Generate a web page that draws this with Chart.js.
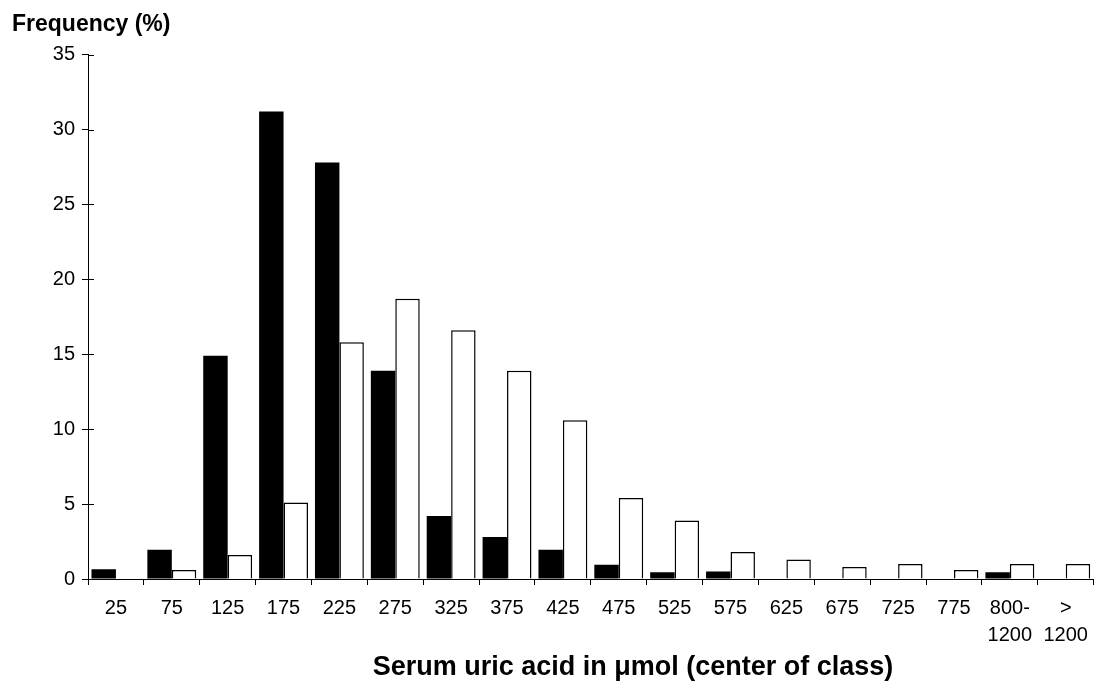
<!DOCTYPE html>
<html>
<head>
  <title>Serum uric acid frequency</title>
  <script src="https://cdn.jsdelivr.net/npm/chart.js@4.4.0/dist/chart.umd.min.js"></script>
  <style>
    * { margin: 0; padding: 0; box-sizing: border-box; }
    body { background: #fff; width: 1098px; height: 687px; overflow: hidden; }
    .chart-box { position: relative; width: 1098px; height: 687px; }
  </style>
</head>
<body>
<div class="chart-box">
  <canvas id="uricChart"></canvas>
</div>

<script>
  // class centres (umol)
  const classLabels = ['25', '75', '125', '175', '225', '275', '325', '375', '425',
    '475', '525', '575', '625', '675', '725', '775', ['800-', '1200'], ['>', '1200']];
  // frequency in %, black series
  const blackValues = [0.65, 1.95, 14.9, 31.2, 27.8, 13.9, 4.2, 2.8, 1.95,
    0.95, 0.45, 0.5, 0, 0, 0, 0, 0.45, 0];
  // frequency in %, white series
  const whiteValues = [0, 0.6, 1.6, 5.1, 15.8, 18.7, 16.6, 13.9, 10.6,
    5.4, 3.9, 1.8, 1.3, 0.8, 1.0, 0.6, 1.0, 1.0];
  const yTicks = [0, 5, 10, 15, 20, 25, 30, 35];
  const xTitle = 'Serum uric acid in \u03bcmol (center of class)';

  const FONT = "'Liberation Sans', Arial, sans-serif";

  // short tick marks crossing the y axis line, plus the x axis title
  // (the title sits a bit right of the plot centre in the original)
  const extras = {
    id: 'extras',
    afterDraw(chart) {
      const y = chart.scales.y;
      const c = chart.ctx;
      c.save();
      c.strokeStyle = '#000';
      c.lineWidth = 1;
      y.ticks.forEach(t => {
        const py = Math.round(y.getPixelForValue(t.value)) + 0.5;
        c.beginPath();
        c.moveTo(chart.chartArea.left, py);
        c.lineTo(chart.chartArea.left + 6, py);
        c.stroke();
      });
      c.fillStyle = '#000';
      c.font = 'bold 27px ' + FONT;
      c.textAlign = 'center';
      c.textBaseline = 'alphabetic';
      c.fillText(xTitle, 633, 675);
      c.restore();
    }
  };

  const ctx = document.getElementById('uricChart').getContext('2d');
  new Chart(ctx, {
    type: 'bar',
    data: {
      labels: classLabels,
      datasets: [
        {
          data: blackValues,
          backgroundColor: '#000',
          borderColor: '#000',
          borderWidth: 0,
          categoryPercentage: 0.875,
          barPercentage: 1.0
        },
        {
          data: whiteValues,
          backgroundColor: '#fff',
          borderColor: '#000',
          borderWidth: 1.5,
          categoryPercentage: 0.875,
          barPercentage: 1.0
        }
      ]
    },
    options: {
      responsive: true,
      maintainAspectRatio: false,
      animation: false,
      layout: { padding: { left: 12, right: 1, top: 0, bottom: 0 } },
      scales: {
        x: {
          afterFit: (axis) => { axis.height = 108; },
          border: { display: true, color: '#000', width: 1 },
          grid: { display: true, offset: true, drawOnChartArea: false, tickLength: 6, color: '#000' },
          ticks: {
            color: '#000',
            padding: 10,
            maxRotation: 0,
            autoSkip: false,
            font: { family: FONT, size: 20, lineHeight: 1.35 }
          },
          title: { display: false }
        },
        y: {
          min: 0,
          max: 35,
          afterFit: (axis) => { axis.width = 76; },
          afterBuildTicks: (axis) => { axis.ticks = yTicks.map(v => ({ value: v })); },
          border: { display: true, color: '#000', width: 1 },
          grid: { display: true, drawOnChartArea: false, tickLength: 6, color: '#000' },
          ticks: {
            color: '#000',
            padding: 7,
            font: { family: FONT, size: 20 }
          }
        }
      },
      plugins: {
        legend: { display: false },
        tooltip: { enabled: false },
        title: {
          display: true,
          text: 'Frequency (%)',
          align: 'start',
          color: '#000',
          font: { family: FONT, size: 23, weight: 'bold' },
          padding: { top: 11, bottom: 16 }
        }
      }
    },
    plugins: [extras]
  });
</script>
</body>
</html>
